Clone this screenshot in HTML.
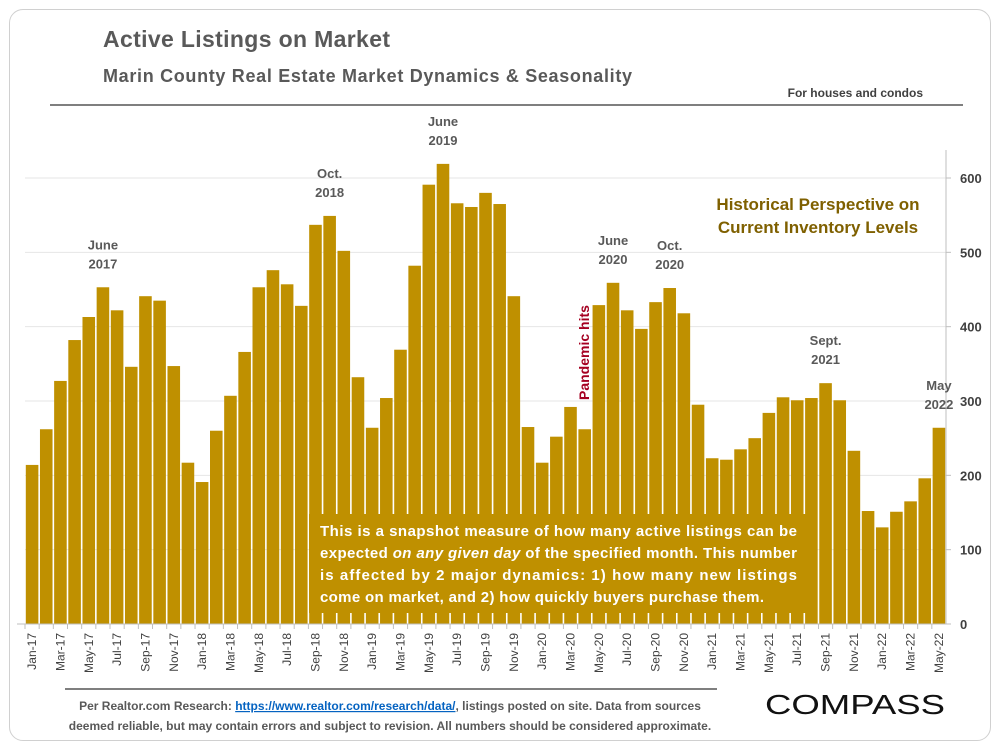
<!DOCTYPE html>
<html><head><meta charset="utf-8"><style>
body{margin:0;background:#fff;font-family:"Liberation Sans",sans-serif}
#frame{position:absolute;left:9px;top:9px;width:980px;height:730px;border:1px solid #d0d0d0;border-radius:14px}
</style></head><body>
<div id="frame"></div>
<svg id="c" width="1000" height="750" style="position:absolute;left:0;top:0" font-family="Liberation Sans, sans-serif">
<text x="103" y="47" font-size="23" font-weight="bold" fill="#595959" textLength="287">Active Listings on Market</text>
<text x="103" y="82" font-size="18" font-weight="bold" fill="#595959" textLength="529">Marin County Real Estate Market Dynamics &amp; Seasonality</text>
<text x="923" y="97" font-size="12" font-weight="bold" fill="#404040" text-anchor="end">For houses and condos</text>
<line x1="50" y1="105" x2="963" y2="105" stroke="#7f7f7f" stroke-width="2"/>
<g id="grid"></g><g id="bars"></g><g id="axes"></g>
<text x="818" y="210" font-size="17" font-weight="bold" fill="#7f6000" text-anchor="middle">Historical Perspective on</text>
<text x="818" y="233" font-size="17" font-weight="bold" fill="#7f6000" text-anchor="middle">Current Inventory Levels</text>
<text transform="translate(589,400) rotate(-90)" font-size="14" font-weight="bold" fill="#a50021">Pandemic hits</text>
<rect x="309" y="514" width="504" height="99" fill="#bf9000"/>
<g font-size="15" font-weight="bold" fill="#fff">
<text x="320" y="536" textLength="477">This is a snapshot measure of how many active listings can be</text>
<text x="320" y="558" textLength="477">expected <tspan font-style="italic">on any given day</tspan> of the specified month. This number</text>
<text x="320" y="580" textLength="477">is affected by 2 major dynamics: 1) how many new listings</text>
<text x="320" y="602" textLength="444">come on market, and 2) how quickly buyers purchase them.</text>
</g>
<line x1="65" y1="689" x2="717" y2="689" stroke="#7f7f7f" stroke-width="2"/>
<text x="390" y="710" font-size="12" font-weight="bold" fill="#595959" text-anchor="middle">Per Realtor.com Research:  <tspan fill="#0563c1" text-decoration="underline">https://www.realtor.com/research/data/</tspan>, listings posted on site. Data from sources</text>
<text x="390" y="730" font-size="12" font-weight="bold" fill="#595959" text-anchor="middle">deemed reliable, but may contain errors and subject to revision. All numbers should be considered approximate.</text>
<text x="765" y="714" font-size="28" fill="#111" textLength="180" lengthAdjust="spacingAndGlyphs">COMPASS</text>
</svg>
<script>
const categories=["Jan-17","Feb-17","Mar-17","Apr-17","May-17","Jun-17","Jul-17","Aug-17","Sep-17","Oct-17","Nov-17","Dec-17","Jan-18","Feb-18","Mar-18","Apr-18","May-18","Jun-18","Jul-18","Aug-18","Sep-18","Oct-18","Nov-18","Dec-18","Jan-19","Feb-19","Mar-19","Apr-19","May-19","Jun-19","Jul-19","Aug-19","Sep-19","Oct-19","Nov-19","Dec-19","Jan-20","Feb-20","Mar-20","Apr-20","May-20","Jun-20","Jul-20","Aug-20","Sep-20","Oct-20","Nov-20","Dec-20","Jan-21","Feb-21","Mar-21","Apr-21","May-21","Jun-21","Jul-21","Aug-21","Sep-21","Oct-21","Nov-21","Dec-21","Jan-22","Feb-22","Mar-22","Apr-22","May-22"];
const listings=[214,262,327,382,413,453,422,346,441,435,347,217,191,260,307,366,453,476,457,428,537,549,502,332,264,304,369,482,591,619,566,561,580,565,441,265,217,252,292,262,429,459,422,397,433,452,418,295,223,221,235,250,284,305,301,304,324,301,233,152,130,151,165,196,264];
const yTicks=[0,100,200,300,400,500,600];
const callouts=[["June","2017",5],["Oct.","2018",21],["June","2019",29],["June","2020",41],["Oct.","2020",45],["Sept.","2021",56],["May","2022",64]];
const L=25,R=946,Y0=624,pxPer=446/600;
const step=(R-L)/categories.length;
const x=i=>L+i*step, y=v=>Y0-v*pxPer;
const NS="http://www.w3.org/2000/svg";
function mk(t,a,p){const e=document.createElementNS(NS,t);for(const k in a)e.setAttribute(k,a[k]);p.appendChild(e);return e;}
const grid=document.getElementById('grid'),bars=document.getElementById('bars'),axes=document.getElementById('axes');
yTicks.forEach(t=>{
 if(t>0){const g=mk('line',{x1:L,x2:R,y1:y(t),y2:y(t),stroke:'#e6e6e6'},grid);
 
 }
 const tk=mk('line',{x1:R,x2:R+5,y1:y(t),y2:y(t),stroke:'#bfbfbf'},axes);
 
 
 const tx=mk('text',{x:R+14,y:y(t)+5,'font-size':13,'font-weight':'bold',fill:'#404040'},axes);
 tx.textContent=t;
 
 
});
const ax=mk('line',{x1:R,x2:R,y1:150,y2:Y0,stroke:'#bfbfbf'},axes);


const xl=mk('line',{x1:L-8,x2:R,y1:Y0,y2:Y0,stroke:'#bfbfbf'},axes);


listings.forEach((v,i)=>{
 const b=mk('rect',{x:x(i)+0.8,y:y(v),width:step-1.6,height:v*pxPer,fill:'#bf9000'},bars);
 
 
 const tk=mk('line',{x1:x(i),x2:x(i),y1:Y0,y2:Y0+5,stroke:'#bfbfbf'},axes);
 
 
 if(i%2==0){const cx=x(i)+step/2+4;
  const t=mk('text',{transform:`translate(${cx},${Y0+9}) rotate(-90)`,'font-size':12,fill:'#404040','text-anchor':'end'},axes);
  t.textContent=categories[i];
  
  }
});
callouts.forEach(c=>{
 const cx=x(c[2])+step/2, top=y(listings[c[2]]);
 const g=mk('text',{x:cx,y:top-38,'font-size':13,'font-weight':'bold',fill:'#595959','text-anchor':'middle'},axes);
 g.textContent=c[0];
 
 
 const g2=mk('text',{x:cx,y:top-19,'font-size':13,'font-weight':'bold',fill:'#595959','text-anchor':'middle'},axes);
 g2.textContent=c[1];
 
 
});
</script>
</body></html>
